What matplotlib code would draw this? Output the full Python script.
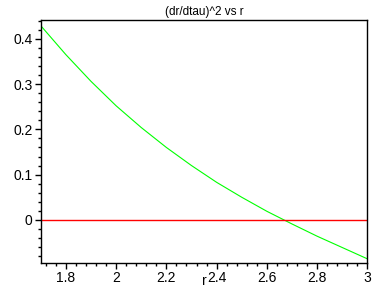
import matplotlib
matplotlib.use('Agg')
import matplotlib.pyplot as plt
from matplotlib.ticker import MultipleLocator

# values
r = [1.7, 1.8, 1.9, 2.0, 2.1, 2.2, 2.3, 2.4, 2.5, 2.6, 2.7, 2.8, 2.9, 3.0]
drdtau2 = [0.429, 0.365, 0.306, 0.252, 0.204, 0.160, 0.120, 0.083,
           0.050, 0.019, -0.009, -0.036, -0.061, -0.086]
zero_level = [0.0, 0.0]
zero_r = [1.7, 3.0]

plt.rcParams['font.family'] = ['Liberation Sans', 'DejaVu Sans']

fig = plt.figure(figsize=(3.88, 2.88), dpi=100)
ax = fig.add_axes([0.105, 0.087, 0.842, 0.842])

ax.plot(r, drdtau2, color='#00ff00', lw=0.8)
ax.plot(zero_r, zero_level, color='#ff0000', lw=1.0)

ax.set_xlim(1.7, 3.0)
ax.set_ylim(-0.095, 0.4405)

ax.xaxis.set_major_locator(MultipleLocator(0.2))
ax.xaxis.set_minor_locator(MultipleLocator(0.04))
ax.yaxis.set_major_locator(MultipleLocator(0.1))
ax.yaxis.set_minor_locator(MultipleLocator(0.02))
ax.xaxis.set_major_formatter(plt.FuncFormatter(lambda v, p: ('%g' % round(v, 2))))
ax.yaxis.set_major_formatter(plt.FuncFormatter(lambda v, p: ('%g' % round(v, 2))))

ax.tick_params(which='major', length=4, width=1, labelsize=10, pad=2)
ax.tick_params(which='minor', length=2, width=1)
ax.tick_params(top=False, right=False)
for s in ax.spines.values():
    s.set_linewidth(1.0)

ax.set_title('(dr/dtau)^2 vs r', fontsize=8.5, pad=4)
ax.set_xlabel('r', fontsize=10, labelpad=-8)

fig.savefig('out.png', dpi=100)
